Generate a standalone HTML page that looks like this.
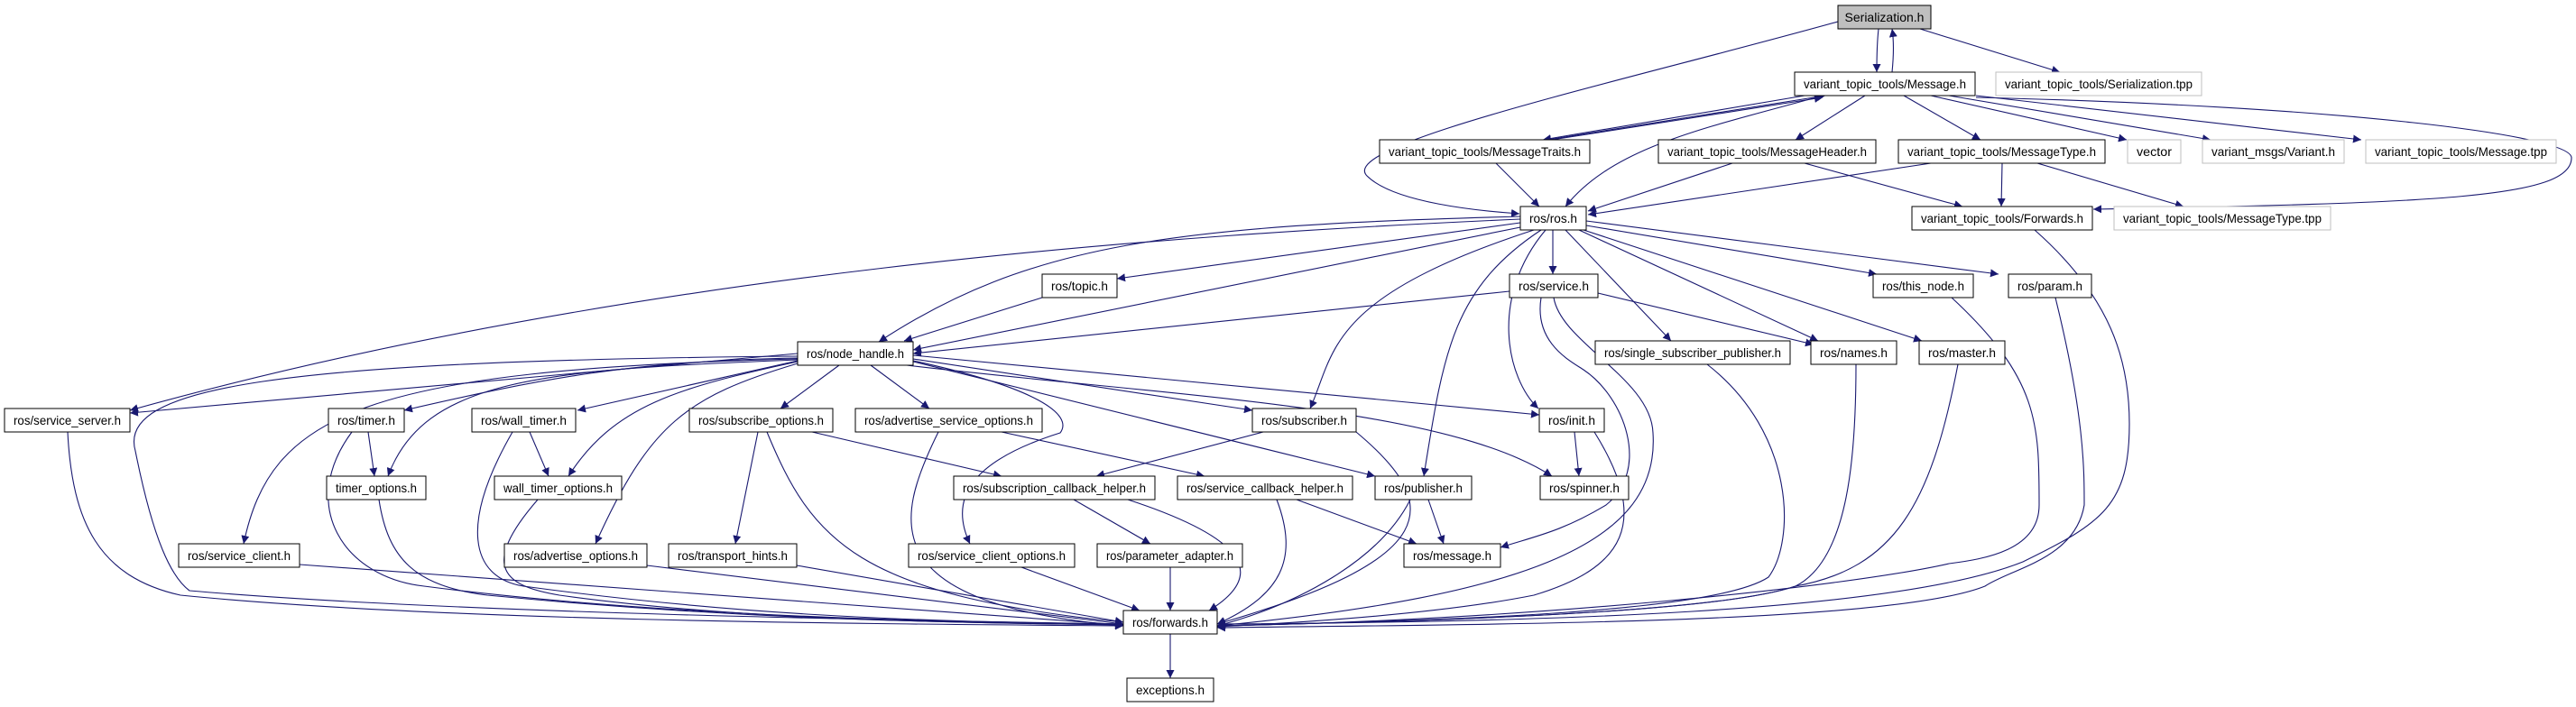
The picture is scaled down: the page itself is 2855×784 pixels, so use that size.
<!DOCTYPE html>
<html><head><meta charset="utf-8"><style>
html,body{margin:0;padding:0;background:#fff;}
svg{display:block;}
text{font-family:"Liberation Sans",sans-serif;font-size:14px;fill:#000;}
.e{fill:none;stroke:#191970;stroke-width:1.1;marker-end:url(#a);}
.n{fill:#fff;stroke:#000;stroke-width:1;}
.g{fill:#fff;stroke:#bfbfbf;stroke-width:1;}
</style></head><body>
<svg width="2855" height="784" viewBox="0 0 2855 784" xmlns="http://www.w3.org/2000/svg">
<defs><marker id="a" viewBox="0 0 10 10" refX="10" refY="5" markerWidth="9" markerHeight="9" markerUnits="userSpaceOnUse" orient="auto"><path d="M0,0L10,5L0,10z" fill="#191970"/></marker></defs>
<g>
<!-- Serialization edges -->
<path class="e" d="M2037,24 C1800,90 1480,160 1515,195 C1545,225 1640,234 1684,237"/>
<path class="e" d="M2082,32 C2080,50 2080,65 2080,80"/>
<path class="e" d="M2097,80 C2099,60 2099,45 2097,32"/>
<path class="e" d="M2128,32 L2283,80"/>
<!-- Message.h edges -->
<path class="e" d="M2000,106 L1710,155"/>
<path class="e" d="M1715,155 L2023,106"/>
<path class="e" d="M1720,155 L2020,108"/>
<path class="e" d="M2067,106 L1990,155"/>
<path class="e" d="M2110,106 L2195,155"/>
<path class="e" d="M2140,106 L2357,155"/>
<path class="e" d="M2160,106 L2450,155"/>
<path class="e" d="M2190,106 L2617,155"/>
<path class="e" d="M2190,108 C2600,118 2850,150 2850,175 C2850,220 2700,225 2320,232"/>
<path class="e" d="M2020,106 C1900,140 1790,160 1735,229"/>
<!-- level 2 -->
<path class="e" d="M1658,181 L1706,229"/>
<path class="e" d="M1920,181 L1760,234"/>
<path class="e" d="M2000,181 L2175,229"/>
<path class="e" d="M2140,181 L1760,238"/>
<path class="e" d="M2219,181 L2218,229"/>
<path class="e" d="M2258,181 L2420,229"/>
<path class="e" d="M2255,255 C2340,330 2360,400 2360,470 C2360,560 2330,580 2242,623 C2100,680 1700,690 1349,692"/>
<!-- ros.h edges -->
<path class="e" d="M1685,243 C1300,260 700,300 144,455"/>
<path class="e" d="M1685,240 C1300,250 1140,270 974,379"/>
<path class="e" d="M1685,247 L1238,309"/>
<path class="e" d="M1685,252 L1012,388"/>
<path class="e" d="M1721,255 L1721,304"/>
<path class="e" d="M1758,250 L2080,304"/>
<path class="e" d="M1758,245 L2215,304"/>
<path class="e" d="M1735,255 L1852,378"/>
<path class="e" d="M1750,255 L2015,378"/>
<path class="e" d="M1755,255 L2130,378"/>
<path class="e" d="M1700,255 C1470,330 1480,390 1452,453"/>
<path class="e" d="M1708,255 C1610,320 1600,390 1578,528"/>
<path class="e" d="M1713,255 C1650,330 1670,420 1705,453"/>
<!-- topic, service -->
<path class="e" d="M1155,330 L1002,378"/>
<path class="e" d="M1673,323 L1012,392"/>
<path class="e" d="M1771,325 L2010,382"/>
<path class="e" d="M1708,330 C1700,380 1740,400 1755,410 C1800,440 1830,520 1780,560 C1730,590 1700,595 1663,607"/>
<path class="e" d="M1722,330 C1730,380 1830,420 1832,480 C1840,600 1700,660 1349,694"/>
<!-- 404-level to forwards -->
<path class="e" d="M1892,404 C1990,480 1990,600 1960,640 C1900,680 1600,688 1349,694"/>
<path class="e" d="M2057,404 C2057,500 2050,620 1990,650 C1900,680 1600,688 1349,694"/>
<path class="e" d="M2170,404 C2140,560 2100,630 1990,650 C1900,680 1600,688 1349,694"/>
<path class="e" d="M2163,330 C2260,420 2260,470 2260,560 C2260,610 2200,620 2160,625 C2050,650 1700,688 1349,694"/>
<path class="e" d="M2278,330 C2310,460 2310,520 2310,560 C2300,620 2230,630 2200,650 C2100,690 1700,692 1349,696"/>
<!-- node_handle edges -->
<path class="e" d="M884,392 L144,458"/>
<path class="e" d="M884,397 C700,400 600,420 448,455"/>
<path class="e" d="M884,400 L640,455"/>
<path class="e" d="M930,405 L865,453"/>
<path class="e" d="M965,405 L1030,453"/>
<path class="e" d="M1012,398 L1388,455"/>
<path class="e" d="M1012,394 C1300,420 1500,440 1706,460"/>
<path class="e" d="M1005,405 C1300,440 1600,450 1720,528"/>
<path class="e" d="M1012,401 L1524,528"/>
<path class="e" d="M884,399 C600,410 470,420 430,528"/>
<path class="e" d="M884,401 C750,430 680,450 630,528"/>
<path class="e" d="M884,398 C400,410 300,460 270,603"/>
<path class="e" d="M884,403 C760,440 720,470 660,603"/>
<path class="e" d="M1012,400 C1150,430 1190,460 1175,480 C1080,510 1050,550 1075,603"/>
<path class="e" d="M884,395 C300,400 130,430 150,500 C170,600 190,640 210,655 C500,680 1000,688 1245,692"/>
<!-- lower -->
<path class="e" d="M75,479 C80,580 110,640 200,660 C500,690 1000,692 1245,694"/>
<path class="e" d="M408,479 L415,528"/>
<path class="e" d="M390,479 C330,560 380,640 470,650 C700,680 1000,690 1245,692"/>
<path class="e" d="M587,479 L608,528"/>
<path class="e" d="M568,479 C510,580 520,640 580,650 C800,680 1000,690 1245,692"/>
<path class="e" d="M420,554 C430,620 460,650 540,660 C800,685 1000,690 1245,693"/>
<path class="e" d="M596,554 C530,630 560,650 620,660 C800,685 1000,690 1245,693"/>
<path class="e" d="M900,479 L1110,528"/>
<path class="e" d="M840,479 L815,603"/>
<path class="e" d="M850,479 C900,600 950,660 1245,690"/>
<path class="e" d="M1110,479 L1335,528"/>
<path class="e" d="M1040,479 C990,580 970,670 1245,694"/>
<path class="e" d="M1400,479 L1215,528"/>
<path class="e" d="M1503,479 C1600,560 1600,620 1349,692"/>
<path class="e" d="M1190,554 L1275,603"/>
<path class="e" d="M1250,554 C1390,600 1400,640 1340,677"/>
<path class="e" d="M1437,554 L1570,603"/>
<path class="e" d="M1415,554 C1440,620 1420,660 1349,692"/>
<path class="e" d="M1583,554 L1600,603"/>
<path class="e" d="M1563,554 C1530,620 1440,670 1349,694"/>
<path class="e" d="M1745,479 L1750,528"/>
<path class="e" d="M1767,479 C1830,580 1800,630 1700,660 C1600,680 1450,690 1349,695"/>
<path class="e" d="M332,626 L1245,693"/>
<path class="e" d="M717,627 L1245,692"/>
<path class="e" d="M883,627 L1245,690"/>
<path class="e" d="M1132,629 L1263,677"/>
<path class="e" d="M1297,629 L1297,677"/>
<path class="e" d="M1297,703 L1297,752"/>
</g>
<g>
<rect x="2037" y="6" width="103" height="26" fill="#bfbfbf" stroke="#000"/>
<text x="2088.5" y="24" text-anchor="middle">Serialization.h</text>
</g>
<g id="nodes"></g>
<g>
<rect class="n" x="1989" y="80" width="200" height="26"/><text x="2089" y="98" text-anchor="middle" textLength="180" lengthAdjust="spacingAndGlyphs">variant_topic_tools/Message.h</text>
<rect class="g" x="2212" y="80" width="228" height="26"/><text x="2326" y="98" text-anchor="middle" textLength="208" lengthAdjust="spacingAndGlyphs">variant_topic_tools/Serialization.tpp</text>
<rect class="n" x="1529" y="155" width="233" height="26"/><text x="1645.5" y="173" text-anchor="middle" textLength="213" lengthAdjust="spacingAndGlyphs">variant_topic_tools/MessageTraits.h</text>
<rect class="n" x="1838" y="155" width="241" height="26"/><text x="1958.5" y="173" text-anchor="middle" textLength="221" lengthAdjust="spacingAndGlyphs">variant_topic_tools/MessageHeader.h</text>
<rect class="n" x="2104" y="155" width="229" height="26"/><text x="2218.5" y="173" text-anchor="middle" textLength="209" lengthAdjust="spacingAndGlyphs">variant_topic_tools/MessageType.h</text>
<rect class="g" x="2358" y="155" width="59" height="26"/><text x="2387.5" y="173" text-anchor="middle" textLength="39" lengthAdjust="spacingAndGlyphs">vector</text>
<rect class="g" x="2441" y="155" width="157" height="26"/><text x="2519.5" y="173" text-anchor="middle" textLength="137" lengthAdjust="spacingAndGlyphs">variant_msgs/Variant.h</text>
<rect class="g" x="2622" y="155" width="211" height="26"/><text x="2727.5" y="173" text-anchor="middle" textLength="191" lengthAdjust="spacingAndGlyphs">variant_topic_tools/Message.tpp</text>
<rect class="n" x="1685" y="229" width="73" height="26"/><text x="1721.5" y="247" text-anchor="middle" textLength="53" lengthAdjust="spacingAndGlyphs">ros/ros.h</text>
<rect class="n" x="2119" y="229" width="200" height="26"/><text x="2219" y="247" text-anchor="middle" textLength="180" lengthAdjust="spacingAndGlyphs">variant_topic_tools/Forwards.h</text>
<rect class="g" x="2343" y="229" width="240" height="26"/><text x="2463" y="247" text-anchor="middle" textLength="220" lengthAdjust="spacingAndGlyphs">variant_topic_tools/MessageType.tpp</text>
<rect class="n" x="1155" y="304" width="83" height="26"/><text x="1196.5" y="322" text-anchor="middle" textLength="63" lengthAdjust="spacingAndGlyphs">ros/topic.h</text>
<rect class="n" x="1673" y="304" width="98" height="26"/><text x="1722" y="322" text-anchor="middle" textLength="78" lengthAdjust="spacingAndGlyphs">ros/service.h</text>
<rect class="n" x="2076" y="304" width="111" height="26"/><text x="2131.5" y="322" text-anchor="middle" textLength="91" lengthAdjust="spacingAndGlyphs">ros/this_node.h</text>
<rect class="n" x="2226" y="304" width="92" height="26"/><text x="2272" y="322" text-anchor="middle" textLength="72" lengthAdjust="spacingAndGlyphs">ros/param.h</text>
<rect class="n" x="884" y="379" width="128" height="26"/><text x="948" y="397" text-anchor="middle" textLength="108" lengthAdjust="spacingAndGlyphs">ros/node_handle.h</text>
<rect class="n" x="1768" y="378" width="216" height="26"/><text x="1876" y="396" text-anchor="middle" textLength="196" lengthAdjust="spacingAndGlyphs">ros/single_subscriber_publisher.h</text>
<rect class="n" x="2007" y="378" width="95" height="26"/><text x="2054.5" y="396" text-anchor="middle" textLength="75" lengthAdjust="spacingAndGlyphs">ros/names.h</text>
<rect class="n" x="2127" y="378" width="95" height="26"/><text x="2174.5" y="396" text-anchor="middle" textLength="75" lengthAdjust="spacingAndGlyphs">ros/master.h</text>
<rect class="n" x="5" y="453" width="139" height="26"/><text x="74.5" y="471" text-anchor="middle" textLength="119" lengthAdjust="spacingAndGlyphs">ros/service_server.h</text>
<rect class="n" x="364" y="453" width="84" height="26"/><text x="406" y="471" text-anchor="middle" textLength="64" lengthAdjust="spacingAndGlyphs">ros/timer.h</text>
<rect class="n" x="523" y="453" width="115" height="26"/><text x="580.5" y="471" text-anchor="middle" textLength="95" lengthAdjust="spacingAndGlyphs">ros/wall_timer.h</text>
<rect class="n" x="764" y="453" width="159" height="26"/><text x="843.5" y="471" text-anchor="middle" textLength="139" lengthAdjust="spacingAndGlyphs">ros/subscribe_options.h</text>
<rect class="n" x="948" y="453" width="207" height="26"/><text x="1051.5" y="471" text-anchor="middle" textLength="187" lengthAdjust="spacingAndGlyphs">ros/advertise_service_options.h</text>
<rect class="n" x="1388" y="453" width="115" height="26"/><text x="1445.5" y="471" text-anchor="middle" textLength="95" lengthAdjust="spacingAndGlyphs">ros/subscriber.h</text>
<rect class="n" x="1706" y="453" width="72" height="26"/><text x="1742" y="471" text-anchor="middle" textLength="52" lengthAdjust="spacingAndGlyphs">ros/init.h</text>
<rect class="n" x="362" y="528" width="110" height="26"/><text x="417" y="546" text-anchor="middle" textLength="90" lengthAdjust="spacingAndGlyphs">timer_options.h</text>
<rect class="n" x="548" y="528" width="141" height="26"/><text x="618.5" y="546" text-anchor="middle" textLength="121" lengthAdjust="spacingAndGlyphs">wall_timer_options.h</text>
<rect class="n" x="1057" y="528" width="223" height="26"/><text x="1168.5" y="546" text-anchor="middle" textLength="203" lengthAdjust="spacingAndGlyphs">ros/subscription_callback_helper.h</text>
<rect class="n" x="1305" y="528" width="194" height="26"/><text x="1402" y="546" text-anchor="middle" textLength="174" lengthAdjust="spacingAndGlyphs">ros/service_callback_helper.h</text>
<rect class="n" x="1524" y="528" width="107" height="26"/><text x="1577.5" y="546" text-anchor="middle" textLength="87" lengthAdjust="spacingAndGlyphs">ros/publisher.h</text>
<rect class="n" x="1707" y="528" width="98" height="26"/><text x="1756" y="546" text-anchor="middle" textLength="78" lengthAdjust="spacingAndGlyphs">ros/spinner.h</text>
<rect class="n" x="198" y="603" width="134" height="26"/><text x="265" y="621" text-anchor="middle" textLength="114" lengthAdjust="spacingAndGlyphs">ros/service_client.h</text>
<rect class="n" x="559" y="603" width="158" height="26"/><text x="638" y="621" text-anchor="middle" textLength="138" lengthAdjust="spacingAndGlyphs">ros/advertise_options.h</text>
<rect class="n" x="741" y="603" width="142" height="26"/><text x="812" y="621" text-anchor="middle" textLength="122" lengthAdjust="spacingAndGlyphs">ros/transport_hints.h</text>
<rect class="n" x="1007" y="603" width="184" height="26"/><text x="1099" y="621" text-anchor="middle" textLength="164" lengthAdjust="spacingAndGlyphs">ros/service_client_options.h</text>
<rect class="n" x="1216" y="603" width="161" height="26"/><text x="1296.5" y="621" text-anchor="middle" textLength="141" lengthAdjust="spacingAndGlyphs">ros/parameter_adapter.h</text>
<rect class="n" x="1556" y="603" width="107" height="26"/><text x="1609.5" y="621" text-anchor="middle" textLength="87" lengthAdjust="spacingAndGlyphs">ros/message.h</text>
<rect class="n" x="1245" y="677" width="104" height="26"/><text x="1297" y="695" text-anchor="middle" textLength="84" lengthAdjust="spacingAndGlyphs">ros/forwards.h</text>
<rect class="n" x="1249" y="752" width="96" height="26"/><text x="1297" y="770" text-anchor="middle" textLength="76" lengthAdjust="spacingAndGlyphs">exceptions.h</text>
</g>
</svg>
</body></html>
